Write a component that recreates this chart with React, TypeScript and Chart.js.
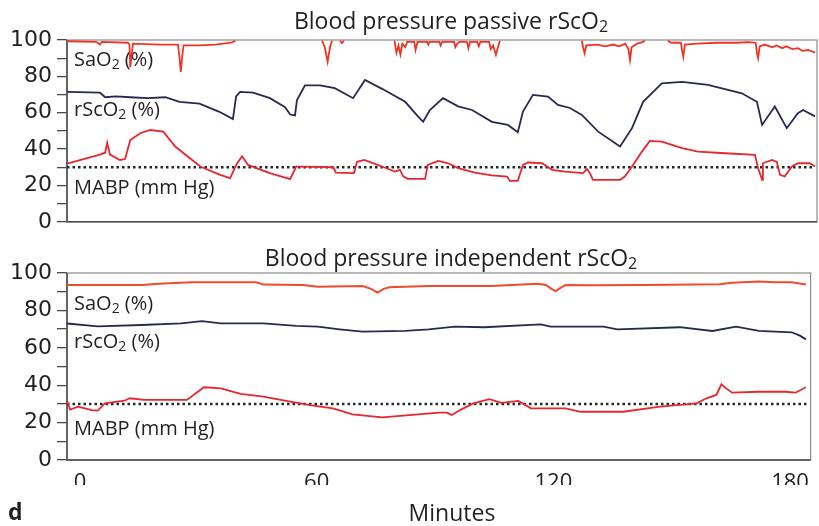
import React, { useEffect, useRef } from 'react';
import { Chart, registerables } from 'chart.js';

Chart.register(...registerables);

// ---------- axes ----------
const X_MIN = -3.3;
const X_MAX = 185.2;
const X_TICKS = [0, 60, 120, 180];
const Y_MIN = 0;
const Y_MAX = 100;
const Y_STEP = 10;
const Y_LABEL_EVERY = 20;
const THRESHOLD = 30;
const THRESHOLD_SPAN = [-3.3, 184.7];

// ---------- top panel: blood pressure passive ----------
const passiveSaO2: [number, number | null][] = [
  [-3.3, 99.3], [4, 99], [5, 97.5], [5.5, 99], [12, 98.5], [12.4, 97.5], [12.6, 85], [13, 93], [13.3, 98],
  [20, 97.5], [24.6, 97.5], [25, 90], [25.3, 82.5], [25.7, 92], [26, 97], [30, 97], [34, 97.5], [38, 98.5],
  [39, 99.6], [39.5, null],
  [60.8, 99.6], [61.5, 96], [62.2, 88], [62.8, 96], [63.3, 99.6], [63.6, null],
  [65.3, 99.6], [65.8, 98.3], [66.3, 99.6], [66.6, null],
  [79, 99.6], [79.5, 93], [80, 97], [80.5, 92], [81, 98], [81.7, 96], [82.2, 99], [84, 99], [84.3, 94.5],
  [84.8, 99], [87.2, 99], [87.5, 97.5], [87.8, 99], [90.3, 99], [90.6, 97], [91, 99], [94, 99], [94.3, 96],
  [94.8, 98], [95.3, 99], [97.2, 99], [97.6, 95.5], [98, 99], [99.8, 99], [100.2, 96.5], [100.6, 99],
  [102.8, 99], [103.2, 95], [103.8, 97], [104.5, 91.8], [105, 96], [105.5, 99.6], [105.8, null],
  [126.1, 99.6], [126.4, 96], [126.8, 92.7], [127.2, 97], [130, 97.5], [132, 96.5], [134, 97.5], [135.5, 96.5],
  [137, 98], [137.8, 95], [138.2, 89], [138.6, 96], [140, 98], [141.5, 99], [141.9, 99.7], [142.2, null],
  [147.7, 99.7], [148.5, 98.5], [151, 98.5], [151.3, 94], [151.6, 90.8], [152, 97.5], [155, 98], [160, 98.5],
  [165, 98.5], [168, 98.8], [169.8, 98.5], [170.1, 93], [170.4, 90], [170.8, 96.5], [172, 97.5], [174, 96],
  [175, 97], [176.5, 95.5], [177.5, 96.5], [179, 95], [180.5, 95.5], [181.5, 94], [183, 94.5], [184.7, 93],
];

const passiveRScO2: [number, number][] = [
  [-3.3, 71.5], [5, 71], [6.3, 68.5], [9, 69], [12.6, 68.5], [17, 68], [21.4, 68.5], [25, 66], [30, 65],
  [35, 60.5], [38.4, 56.5], [39.2, 69], [40.2, 71.5], [43.5, 71], [47.7, 68], [51.5, 63], [52.8, 59],
  [54, 58.5], [54.5, 67], [56.5, 75], [60.3, 75], [64, 73.5], [68.6, 68], [71.6, 78], [76, 73], [81.7, 66],
  [84.9, 58], [86.2, 55], [87.9, 61.5], [91.2, 68], [95, 63.5], [98.5, 61.5], [103.5, 55], [107.5, 53.3],
  [110, 49.3], [111.3, 60.6], [113.8, 69.8], [117.6, 68.9], [120.1, 64.3], [123.1, 62.6], [126.1, 58.8],
  [130.2, 49.6], [135.7, 41.4], [138.7, 51.5], [141.5, 66], [146.2, 76.2], [151.3, 77], [157.8, 75.3],
  [166.3, 70.7], [170.1, 66], [171.4, 53.3], [174.6, 63.4], [177.6, 51.5], [180.4, 59.7], [181.7, 61.5],
  [184.7, 58],
];

const passiveMABP: [number, number][] = [
  [-3.3, 32], [5, 37], [6.3, 38], [6.8, 43.5], [7.5, 37], [10, 34], [11.3, 34.5], [12.6, 45], [15.1, 48.7],
  [17.6, 50.5], [20.9, 49.6], [23.9, 41.4], [27.6, 35], [30.2, 30.4], [35.2, 25.8], [37.7, 24], [39.4, 32],
  [40.7, 36], [42.2, 31.3], [47.7, 26.8], [52.8, 23.5], [54.3, 30.4], [55.3, 30.4], [63.6, 30], [64.3, 27],
  [68.8, 26.8], [69.6, 33], [71.4, 34], [75.9, 30.4], [79.1, 27.6], [80.4, 28.6], [81.2, 25], [82.4, 23.6],
  [86.7, 23.6], [87.4, 31.3], [90, 33.5], [92.5, 32.2], [95, 29.5], [99.2, 27.1], [103.5, 25.5],
  [107.3, 24.9], [108, 22.5], [110, 22.5], [111.3, 31.3], [112.6, 32.6], [116.1, 32.2], [118.6, 28.6],
  [121.9, 27.6], [126.4, 26.8], [127.4, 29.1], [128.1, 26.8], [128.9, 23.1], [135.7, 23.1], [136.9, 24.9],
  [138.7, 30.4], [141.2, 38.6], [143.2, 44.5], [146.2, 44.1], [151.3, 40.5], [155.3, 38.6], [162.1, 37.7],
  [169.6, 36.8], [170.4, 29.5], [171.4, 23.1], [171.6, 32.2], [173.9, 34], [175.1, 33], [175.9, 25.8],
  [177.1, 24.9], [178.9, 30.4], [180.4, 32.2], [183.4, 32.2], [184.7, 30.4],
];

// ---------- bottom panel: blood pressure independent ----------
const independentSaO2: [number, number][] = [
  [-3.3, 93.6], [15.6, 93.6], [20, 94.3], [28.1, 95], [44.7, 95], [46.5, 93.8], [56.5, 93.6], [60.3, 92.6],
  [71.6, 93], [73.8, 91.5], [75.4, 89.5], [77, 91.5], [78.4, 92.4], [88.4, 93], [104.3, 93], [116.1, 94.2],
  [118.1, 93.6], [119.5, 91.5], [120.6, 90.3], [121.8, 92], [123.1, 93.6], [130.2, 93.4], [142.7, 93.6],
  [162.1, 94], [165.3, 94.8], [172.1, 95.5], [176, 95], [180.4, 95], [184, 93.8],
];

const independentRScO2: [number, number][] = [
  [-3.3, 73], [4.5, 71.5], [15.6, 72.2], [25.6, 73.1], [30.9, 74.3], [35.7, 73.1], [46.5, 73.1],
  [54.8, 71.7], [60.3, 71.3], [65.8, 69.9], [71.6, 68.6], [82.4, 69], [88.4, 69.9], [95, 71.3],
  [102.5, 71], [116.8, 72.5], [119.3, 71.3], [132.7, 71.3], [136.2, 69.9], [152, 71], [160.3, 69],
  [166.3, 71.3], [172.1, 69], [180.4, 68.3], [182.5, 66.5], [184, 64.5],
];

const independentMABP: [number, number][] = [
  [-3.3, 31.6], [-2.5, 27], [-0.5, 28.5], [3, 26.7], [4.5, 26.4], [6.3, 30.3], [11.3, 31.7], [12.6, 33],
  [16.3, 32.1], [27.1, 32.1], [31.4, 38.9], [35.7, 38.3], [40.7, 35.3], [46.5, 33.9], [53.3, 31.2],
  [58.3, 29.4], [64.1, 27.6], [69.1, 24.4], [76.6, 22.8], [84.2, 24.1], [91, 25.3], [93, 25.3], [94.2, 24.1],
  [96.7, 27.1], [99.7, 30.3], [103.8, 32.5], [106.8, 30.6], [111.1, 31.6], [114.3, 27.6], [123.1, 27.6],
  [126.9, 25.8], [137.7, 25.8], [147, 28.5], [156.3, 30.3], [158.8, 33], [161.3, 34.8], [162.6, 40.5],
  [163.8, 38.3], [165.3, 36], [172.1, 36.5], [178.9, 36.5], [181.4, 36], [184, 38.9],
];

// ---------- text ----------
const TITLE_TOP: [string, string, string] = ['Blood pressure passive rScO', '2', ''];
const TITLE_BOTTOM: [string, string, string] = ['Blood pressure independent rScO', '2', ''];
const LABEL_SAO2: [string, string, string] = ['SaO', '2', ' (%)'];
const LABEL_RSCO2: [string, string, string] = ['rScO', '2', ' (%)'];
const LABEL_MABP: [string, string, string] = ['MABP (mm Hg)', '', ''];
const X_TITLE = 'Minutes';
const PANEL_TAG = 'd';

const FONT = '"Open Sans", sans-serif';
const INK = '#231f20';
const RED = '#e9262d';
const ORANGE_RED = '#f04b2c';
const NAVY = '#262a52';

type Parts = [string, string, string];

function drawSub(ctx: CanvasRenderingContext2D, x: number, y: number, parts: Parts, size: number, center: boolean) {
  ctx.save();
  ctx.fillStyle = INK;
  ctx.textBaseline = 'alphabetic';
  ctx.textAlign = 'left';
  const big = `${size}px ${FONT}`;
  const small = `${Math.round(size * 0.7)}px ${FONT}`;
  ctx.font = big;
  const w1 = ctx.measureText(parts[0]).width;
  const w3 = ctx.measureText(parts[2]).width;
  ctx.font = small;
  const w2 = ctx.measureText(parts[1]).width;
  const sx = center ? x - (w1 + w2 + w3) / 2 : x;
  ctx.font = big;
  ctx.fillText(parts[0], sx, y);
  ctx.font = small;
  ctx.fillText(parts[1], sx + w1, y + size * 0.14);
  ctx.font = big;
  ctx.fillText(parts[2], sx + w1 + w2, y);
  ctx.restore();
}

type PanelText = {
  title: Parts;
  titleX: number;
  titleY: number;
  labels: { parts: Parts; y: number }[];
  extra?: (ctx: CanvasRenderingContext2D) => void;
};

function makePanelPlugin(t: PanelText) {
  return {
    id: 'panelDecor',
    beforeDatasetsDraw(chart: any) {
      const { ctx, chartArea: a } = chart;
      ctx.save();
      ctx.strokeStyle = '#8a8a8a';
      ctx.lineWidth = 1.2;
      ctx.strokeRect(a.left, a.top, a.right - a.left, a.bottom - a.top);
      ctx.strokeStyle = '#4a4a4a';
      ctx.lineWidth = 1.5;
      ctx.beginPath();
      ctx.moveTo(a.left, a.top);
      ctx.lineTo(a.left, a.bottom);
      ctx.lineTo(a.right, a.bottom);
      ctx.stroke();
      ctx.restore();
      for (const l of t.labels) drawSub(ctx, a.left + 7, l.y, l.parts, 20, false);
    },
    afterDraw(chart: any) {
      const { ctx } = chart;
      drawSub(ctx, t.titleX, t.titleY, t.title, 23, true);
      if (t.extra) t.extra(ctx);
    },
  };
}

const toXY = (arr: [number, number | null][]) => arr.map(([x, y]) => ({ x, y }));

function makeConfig(
  series: { data: [number, number | null][]; color: string; width: number }[],
  showX: boolean,
  padding: any,
  plugin: any,
): any {
  const datasets: any[] = series.map((s) => ({
    data: toXY(s.data),
    borderColor: s.color,
    borderWidth: s.width,
    pointRadius: 0,
    tension: 0,
    spanGaps: false,
  }));
  datasets.push({
    data: THRESHOLD_SPAN.map((x) => ({ x, y: THRESHOLD })),
    borderColor: '#1e2a2a',
    borderWidth: 2.5,
    borderDash: [2.5, 3],
    pointRadius: 0,
  });
  return {
    type: 'line',
    data: { datasets },
    plugins: [plugin],
    options: {
      animation: false,
      responsive: false,
      maintainAspectRatio: false,
      layout: { padding },
      plugins: { legend: { display: false }, tooltip: { enabled: false }, title: { display: false } },
      scales: {
        x: {
          type: 'linear',
          min: X_MIN,
          max: X_MAX,
          display: showX,
          grid: { display: false, drawTicks: false },
          border: { display: false },
          afterBuildTicks: (s: any) => {
            s.ticks = X_TICKS.map((v) => ({ value: v }));
          },
          afterFit: (s: any) => {
            s.height = showX ? 25 : 0;
          },
          ticks: {
            autoSkip: false,
            maxRotation: 0,
            padding: 10,
            color: INK,
            font: { family: FONT, size: 22 },
            callback: (v: any) => String(v),
          },
        },
        y: {
          min: Y_MIN,
          max: Y_MAX,
          afterFit: (s: any) => {
            s.width = 67;
          },
          grid: { drawOnChartArea: false, drawTicks: true, tickLength: 10, color: '#4a4a4a', lineWidth: 1.3 },
          border: { display: false },
          ticks: {
            stepSize: Y_STEP,
            autoSkip: false,
            padding: 5,
            color: INK,
            font: { family: '"DejaVu Sans", sans-serif', size: 22 },
            callback: (v: any) => (Number(v) % Y_LABEL_EVERY === 0 ? String(v) : ''),
          },
        },
      },
    },
  };
}

export default function App() {
  const topRef = useRef<HTMLCanvasElement | null>(null);
  const botRef = useRef<HTMLCanvasElement | null>(null);

  useEffect(() => {
    if (!topRef.current || !botRef.current) return;
    const top = new Chart(
      topRef.current,
      makeConfig(
        [
          { data: passiveSaO2, color: '#ee3524', width: 1.8 },
          { data: passiveRScO2, color: NAVY, width: 1.8 },
          { data: passiveMABP, color: RED, width: 1.8 },
        ],
        false,
        { top: 40, right: 2, bottom: 18, left: 0 },
        makePanelPlugin({
          title: TITLE_TOP,
          titleX: 451,
          titleY: 29,
          labels: [
            { parts: LABEL_SAO2, y: 66 },
            { parts: LABEL_RSCO2, y: 116 },
            { parts: LABEL_MABP, y: 194 },
          ],
        }),
      ),
    );
    const bottom = new Chart(
      botRef.current,
      makeConfig(
        [
          { data: independentSaO2, color: ORANGE_RED, width: 2 },
          { data: independentRScO2, color: NAVY, width: 1.8 },
          { data: independentMABP, color: RED, width: 1.8 },
        ],
        true,
        { top: 33, right: 2, bottom: 41, left: 0 },
        makePanelPlugin({
          title: TITLE_BOTTOM,
          titleX: 451,
          titleY: 26,
          labels: [
            { parts: LABEL_SAO2, y: 70 },
            { parts: LABEL_RSCO2, y: 108 },
            { parts: LABEL_MABP, y: 195 },
          ],
          extra: (ctx) => {
            ctx.save();
            ctx.fillStyle = INK;
            ctx.textBaseline = 'alphabetic';
            ctx.textAlign = 'center';
            ctx.font = `23px ${FONT}`;
            ctx.fillText(X_TITLE, 452, 281);
            ctx.textAlign = 'left';
            ctx.font = `bold 23px ${FONT}`;
            ctx.fillText(PANEL_TAG, 8, 280);
            ctx.restore();
          },
        }),
      ),
    );
    return () => {
      top.destroy();
      bottom.destroy();
    };
  }, []);

  return (
    <div style={{ position: 'absolute', left: 0, top: 0, width: 819, height: 526, background: '#fff' }}>
      <canvas ref={topRef} width={819} height={240} style={{ position: 'absolute', left: 0, top: 0, width: 819, height: 240 }} />
      <canvas ref={botRef} width={819} height={286} style={{ position: 'absolute', left: 0, top: 240, width: 819, height: 286 }} />
    </div>
  );
}
